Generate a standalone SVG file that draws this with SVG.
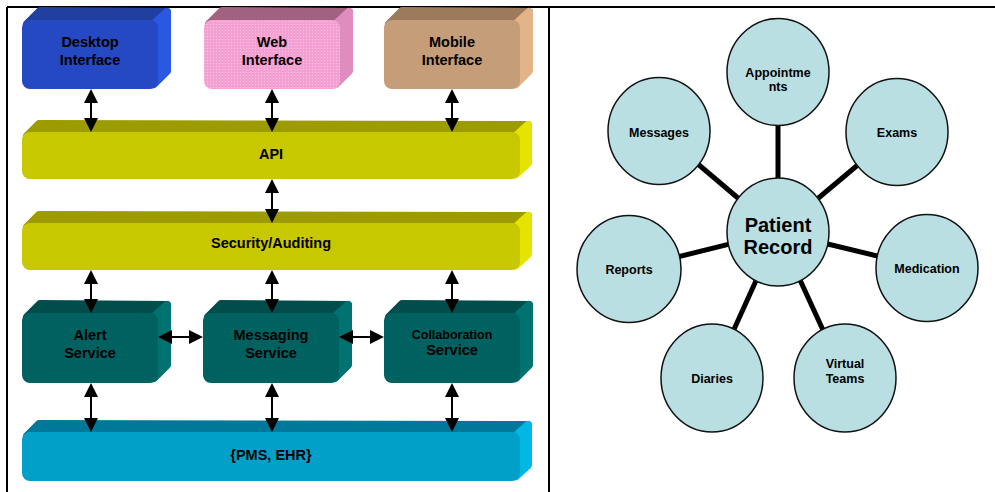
<svg xmlns="http://www.w3.org/2000/svg" width="995" height="492" viewBox="0 0 995 492">
<defs>
<style>
text{font-family:"Liberation Sans",Arial,sans-serif;font-weight:bold;text-anchor:middle;fill:#000}
.t14{font-size:14.5px}.t12{font-size:12.5px}.t20{font-size:20px}
.face{stroke-width:8;stroke-linejoin:round}
.arr{stroke:#000;stroke-width:2;fill:none;marker-start:url(#ah);marker-end:url(#ah)}
.spoke{stroke:#000;stroke-width:5}
.bub{fill:#b9dfe3;stroke:#111;stroke-width:1.5}
.blue .top{fill:#213f9e;stroke:#213f9e}.blue .side{fill:#2a58e0;stroke:#2a58e0}.blue .front{fill:#2549c2}
.pink .top{fill:#a0627f;stroke:#a0627f}.pink .side{fill:#e08cc0;stroke:#e08cc0}.pink .front{fill:url(#dots)}
.tan .top{fill:#9c7b5d;stroke:#9c7b5d}.tan .side{fill:#e2b48a;stroke:#e2b48a}.tan .front{fill:#c59d78}
.olive .top{fill:#9c9b00;stroke:#9c9b00}.olive .side{fill:#e4e400;stroke:#e4e400}.olive .front{fill:#c8c800}
.teal .top{fill:#004d4c;stroke:#004d4c}.teal .side{fill:#007371;stroke:#007371}.teal .front{fill:#006260}
.cyan .top{fill:#00789a;stroke:#00789a}.cyan .side{fill:#00b8e4;stroke:#00b8e4}.cyan .front{fill:#00a0c8}
</style>
<pattern id="dots" width="3" height="3" patternUnits="userSpaceOnUse">
<rect width="3" height="3" fill="#f5a0d2"/>
<rect x="0" y="0" width="1" height="1" fill="#fcc4e6"/>
</pattern>
<marker id="ah" markerUnits="userSpaceOnUse" markerWidth="14" markerHeight="14" refX="10" refY="7" orient="auto-start-reverse">
<path d="M0,0 L14,7 L0,14 Z" fill="#000"/>
</marker>
</defs>
<rect width="995" height="492" fill="#fff"/>
<g id="frame" stroke="#000" stroke-width="2">
<line x1="7" y1="7" x2="995" y2="7"/>
<line x1="7" y1="7" x2="7" y2="492"/>
<line x1="549" y1="7" x2="549" y2="492"/>
</g>

<g id="desktop" class="blue">
<polygon class="face top" points="27,24 40,11 167,12 154,24"/>
<polygon class="face side" points="154,24 167,12 167,71 154,84"/>
<rect class="front" x="22" y="20" width="136" height="69" rx="8"/>
<text class="t14" x="90" y="47">Desktop</text><text class="t14" x="90" y="65">Interface</text>
</g>
<g id="web" class="pink">
<polygon class="face top" points="209,24 222,11 349,12 336,24"/>
<polygon class="face side" points="336,24 349,12 349,71 336,84"/>
<rect class="front" x="204" y="20" width="136" height="69" rx="8"/>
<text class="t14" x="272" y="47">Web</text><text class="t14" x="272" y="65">Interface</text>
</g>
<g id="mobile" class="tan">
<polygon class="face top" points="389,24 402,11 529,12 516,24"/>
<polygon class="face side" points="516,24 529,12 529,71 516,84"/>
<rect class="front" x="384" y="20" width="136" height="69" rx="8"/>
<text class="t14" x="452" y="47">Mobile</text><text class="t14" x="452" y="65">Interface</text>
</g>
<g id="api" class="olive">
<polygon class="face top" points="27,136 39,124 528,125 516,136"/>
<polygon class="face side" points="516,136 528,125 528,163 516,174"/>
<rect class="front" x="22" y="132" width="498" height="47" rx="8"/>
<text class="t14" x="271" y="159">API</text>
</g>
<g id="security" class="olive">
<polygon class="face top" points="27,227 39,215 528,216 516,227"/>
<polygon class="face side" points="516,227 528,216 528,254 516,265"/>
<rect class="front" x="22" y="223" width="498" height="47" rx="8"/>
<text class="t14" x="271" y="248">Security/Auditing</text>
</g>
<g id="alert" class="teal">
<polygon class="face top" points="27,317 40,304 167,305 154,317"/>
<polygon class="face side" points="154,317 167,305 167,365 154,378"/>
<rect class="front" x="22" y="313" width="136" height="70" rx="8"/>
<text class="t14" x="90" y="340">Alert</text><text class="t14" x="90" y="358">Service</text>
</g>
<g id="messaging" class="teal">
<polygon class="face top" points="208,317 221,304 348,305 335,317"/>
<polygon class="face side" points="335,317 348,305 348,365 335,378"/>
<rect class="front" x="203" y="313" width="136" height="70" rx="8"/>
<text class="t14" x="271" y="340">Messaging</text><text class="t14" x="271" y="358">Service</text>
</g>
<g id="collaboration" class="teal">
<polygon class="face top" points="389,317 402,304 529,305 516,317"/>
<polygon class="face side" points="516,317 529,305 529,365 516,378"/>
<rect class="front" x="384" y="313" width="136" height="70" rx="8"/>
<text class="t12" x="452" y="338.5">Collaboration</text><text class="t14" x="452" y="355">Service</text>
</g>
<g id="pms" class="cyan">
<polygon class="face top" points="27,436 39,424 528,425 516,436"/>
<polygon class="face side" points="516,436 528,425 528,465 516,476"/>
<rect class="front" x="22" y="432" width="498" height="49" rx="8"/>
<text class="t14" x="271" y="460">{PMS, EHR}</text>
</g>

<g id="arrows">
<line class="arr" x1="91" y1="93" x2="91" y2="128"/>
<line class="arr" x1="272" y1="93" x2="272" y2="128"/>
<line class="arr" x1="452" y1="93" x2="452" y2="128"/>
<line class="arr" x1="272" y1="183" x2="272" y2="219"/>
<line class="arr" x1="91" y1="274" x2="91" y2="309"/>
<line class="arr" x1="272" y1="274" x2="272" y2="309"/>
<line class="arr" x1="452" y1="274" x2="452" y2="309"/>
<line class="arr" x1="162" y1="337" x2="199" y2="337"/>
<line class="arr" x1="343" y1="337" x2="380" y2="337"/>
<line class="arr" x1="91" y1="387" x2="91" y2="428"/>
<line class="arr" x1="272" y1="387" x2="272" y2="428"/>
<line class="arr" x1="452" y1="387" x2="452" y2="428"/>
</g>

<g id="spokes">
<line class="spoke" x1="778" y1="232" x2="778" y2="72"/>
<line class="spoke" x1="778" y1="232" x2="659" y2="131"/>
<line class="spoke" x1="778" y1="232" x2="897" y2="132"/>
<line class="spoke" x1="778" y1="232" x2="629" y2="269"/>
<line class="spoke" x1="778" y1="232" x2="927" y2="268"/>
<line class="spoke" x1="778" y1="232" x2="712" y2="378"/>
<line class="spoke" x1="778" y1="232" x2="845" y2="378"/>
</g>
<g id="patient-record"><ellipse class="bub" cx="778" cy="232" rx="51" ry="54"/>
<text class="t20" x="778" y="232">Patient</text><text class="t20" x="778" y="254">Record</text></g>
<g id="appointments"><ellipse class="bub" cx="778" cy="72" rx="51" ry="53.5"/>
<text class="t12" x="778" y="76.5">Appointme</text><text class="t12" x="778" y="90.5">nts</text></g>
<g id="messages"><ellipse class="bub" cx="659" cy="131" rx="51" ry="53.5"/>
<text class="t12" x="659" y="136.5">Messages</text></g>
<g id="exams"><ellipse class="bub" cx="897" cy="132" rx="51" ry="53.5"/>
<text class="t12" x="897" y="136.5">Exams</text></g>
<g id="reports"><ellipse class="bub" cx="629" cy="269" rx="52" ry="53.5"/>
<text class="t12" x="629" y="273.5">Reports</text></g>
<g id="medication"><ellipse class="bub" cx="927" cy="268" rx="51" ry="53.5"/>
<text class="t12" x="927" y="272.5">Medication</text></g>
<g id="diaries"><ellipse class="bub" cx="712" cy="378" rx="51" ry="54"/>
<text class="t12" x="712" y="382.5">Diaries</text></g>
<g id="virtual-teams"><ellipse class="bub" cx="845" cy="378" rx="51" ry="54"/>
<text class="t12" x="845" y="367.5">Virtual</text><text class="t12" x="845" y="382.5">Teams</text></g>
</svg>
